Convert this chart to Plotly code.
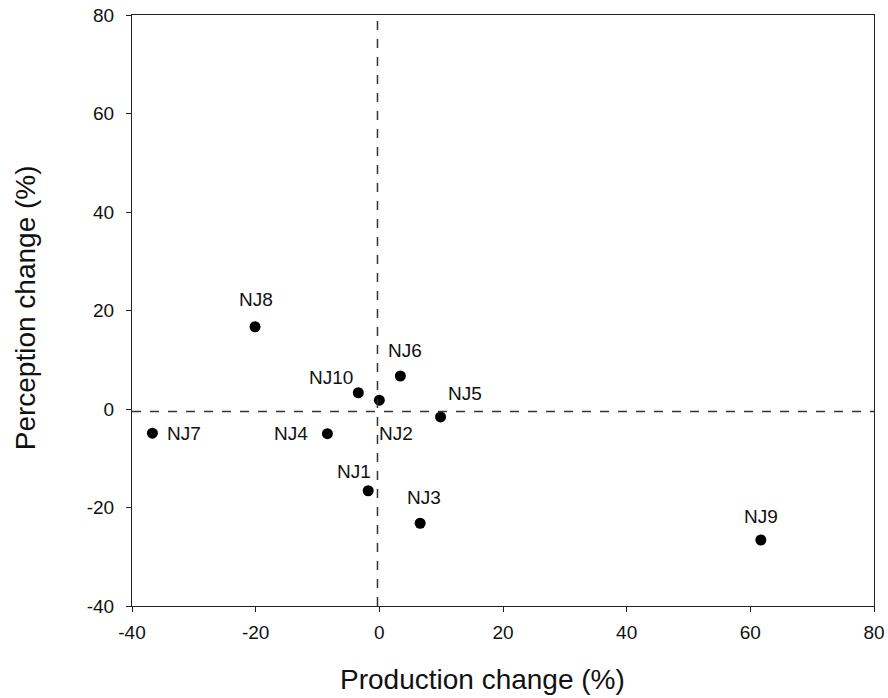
import plotly.graph_objects as go

names = ["NJ1", "NJ2", "NJ3", "NJ4", "NJ5", "NJ6", "NJ7", "NJ8", "NJ9", "NJ10"]
production = [-1.8, 0.0, 6.6, -8.4, 9.9, 3.4, -36.7, -20.1, 61.7, -3.4]
perception = [-16.6, 1.8, -23.2, -5.0, -1.6, 6.7, -4.9, 16.7, -26.6, 3.3]
# label offsets in pixels (dx, dy)
label_dx = [-14, 17, 4, -36, 24, 5, 32, 1, 0, -27]
label_dy = [19, -33, 26, 0, 23, 26, 0, 27, 24, 15]

xticks = [-40, -20, 0, 20, 40, 60, 80]
xticklabels = ["-40", "-20", "0", "20", "40", "60", "80"]
yticks = [-40, -20, 0, 20, 40, 60, 80]
yticklabels = ["-40", "-20", "0", "20", "40", "60", "80"]

font_family = "Liberation Sans, Arial, sans-serif"

fig = go.Figure()
fig.add_trace(go.Scatter(
    x=production, y=perception, mode="markers",
    marker=dict(color="black", size=11),
    showlegend=False, hoverinfo="skip"))

for n, x, y, dx, dy in zip(names, production, perception, label_dx, label_dy):
    fig.add_annotation(x=x, y=y, text=n, showarrow=False,
                       xshift=dx, yshift=dy,
                       font=dict(family=font_family, size=19, color="#111"))

fig.add_shape(type="line", xref="x", yref="paper", x0=-0.3, x1=-0.3, y0=0, y1=1,
              line=dict(color="#333", width=1.5, dash="dash"))
fig.add_shape(type="line", xref="paper", yref="y", x0=0, x1=1, y0=-0.5, y1=-0.5,
              line=dict(color="#333", width=1.5, dash="dash"))

axis_common = dict(showgrid=False, zeroline=False, showline=True, linecolor="#222",
                   linewidth=1.2, mirror=True, ticks="outside", ticklen=5,
                   tickcolor="#222", tickwidth=1.2, automargin=False,
                   tickfont=dict(family=font_family, size=19, color="#111"))

fig.update_xaxes(range=[-40, 80], tickvals=xticks, ticktext=xticklabels,
                 ticklabelstandoff=4, **axis_common)
fig.update_yaxes(range=[-40, 80], tickvals=yticks, ticktext=yticklabels,
                 ticklabelstandoff=8, **axis_common)

fig.add_annotation(text="Production change (%)", xref="paper", yref="paper",
                   x=0.4717, y=-0.125, xanchor="center", yanchor="middle",
                   showarrow=False, font=dict(family=font_family, size=28, color="#111"))
fig.add_annotation(text="Perception change (%)", xref="paper", yref="paper",
                   x=-0.144, y=0.504, xanchor="center", yanchor="middle", textangle=-90,
                   showarrow=False, font=dict(family=font_family, size=28, color="#111"))

fig.update_layout(width=888, height=698, plot_bgcolor="white", paper_bgcolor="white",
                  margin=dict(l=132, r=14, t=15, b=92))

fig.write_html("out.html")
